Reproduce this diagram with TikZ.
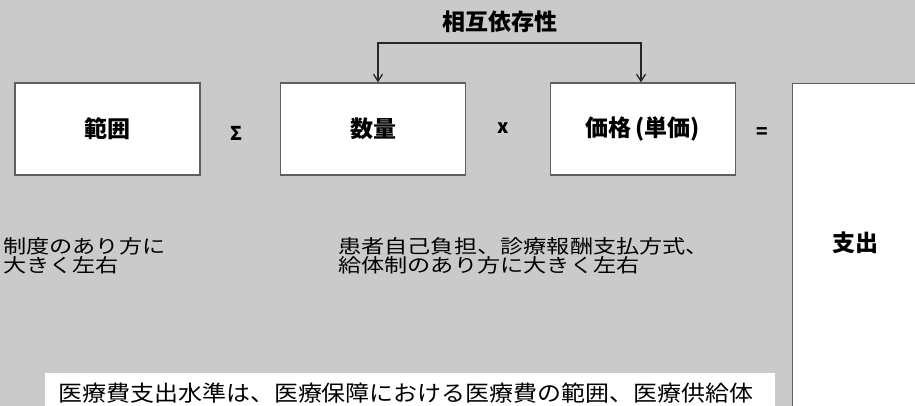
\documentclass[tikz,border=0pt]{standalone}
\usepackage{fontspec}
\newfontfamily\jp{Noto Sans CJK JP}
\newfontfamily\jpw{Noto Sans CJK JP}[FakeStretch=1.22]
\newfontfamily\jpv{Noto Sans CJK JP}[FakeStretch=1.09]
\usetikzlibrary{arrows.meta}
\definecolor{bg}{RGB}{202,202,202}
\definecolor{edge}{RGB}{95,95,95}
\begin{document}
\begin{tikzpicture}[x=1pt,y=1pt,
  box/.style={draw=edge, line width=1.3pt, fill=white, minimum width=185pt, minimum height=92pt, inner sep=0pt,
    font=\jp\bfseries\fontsize{23}{26}\selectfont},
  lbl/.style={font=\jp\bfseries\fontsize{23}{26}\selectfont, inner sep=0pt},
  op/.style={font=\jp\bfseries\fontsize{19}{22}\selectfont, inner sep=0pt},
  note/.style={font=\jpw\fontsize{19}{19.5}\selectfont, align=left, anchor=west, inner sep=0pt},
  sumtext/.style={font=\jpv\fontsize{22}{24}\selectfont, anchor=west, inner sep=0pt},
  arr/.style={draw=black!85, line width=1.3pt, -{Straight Barb[length=7pt,width=9pt]}}]
\useasboundingbox (0,0) rectangle (915,-406);
\clip (0,0) rectangle (915,-406);
\fill[bg] (0,0) rectangle (915,-406);

\node[lbl] (title) at (500,-22) {相互依存性};

\node[box] (hanni) at (107.5,-129) {範囲};
\node[box] (suryo) at (373,-129) {数量};
\node[box] (kakaku) at (643,-129) {価格\,(単価)};
\node[box, minimum width=160pt, minimum height=340pt, anchor=north west] (outbox) at (792,-83) {};
\node[lbl] (shishutsu) at (855,-243) {支出};

\node[op] (sigma) at (236,-133) {Σ};
\node[op] (times) at (503,-128) {x};
\node[op] (equals) at (762,-133) {=};

\coordinate (bar) at (510,-43);
\draw[arr] (bar) -| ([xshift=5pt]suryo.north);
\draw[arr] (bar) -| ([xshift=-2pt]kakaku.north);

\node[note] (left) at (3,-256) {制度のあり方に\\大きく左右};
\node[note] (mid) at (338,-256) {患者自己負担、診療報酬支払方式、\\給体制のあり方に大きく左右};

\node[fill=white, anchor=north west, minimum width=730pt, minimum height=45pt, inner sep=0pt] (sumbox) at (45,-373) {};
\node[sumtext] (sum) at (58,-393) {医療費支出水準は、医療保障における医療費の範囲、医療供給体};
\end{tikzpicture}
\end{document}
